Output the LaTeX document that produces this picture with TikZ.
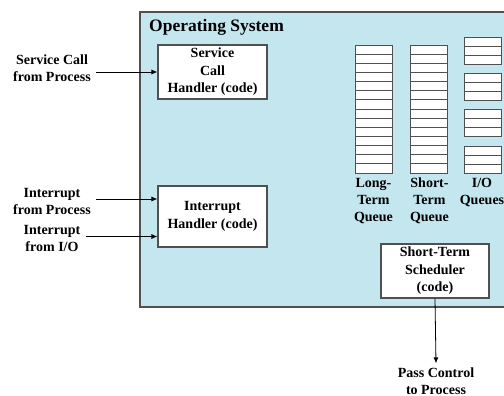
\documentclass[tikz,border=0pt]{standalone}
\usepackage{fontspec}
\setmainfont{Liberation Serif}
\usetikzlibrary{arrows.meta}
\definecolor{osblue}{HTML}{C4E6EF}
\definecolor{edgegray}{HTML}{505050}
\tikzset{
  osbox/.style={draw=edgegray, fill=osblue, line width=1.2pt},
  codebox/.style={draw=edgegray, fill=white, line width=1.1pt, align=center, inner sep=0pt,
    font=\bfseries\fontsize{14}{17.5}\selectfont},
  qcell/.style={draw=edgegray, fill=white, line width=0.9pt},
  txt/.style={align=center, inner xsep=5pt, inner ysep=0pt, font=\bfseries\fontsize{14}{17}\selectfont},
  flow/.style={draw=black, line width=0.8pt, -{Latex[length=6pt,width=5pt]}}
}
\begin{document}
\begin{tikzpicture}[x=1pt, y=-1pt]
            \clip (0,0) rectangle (504,396);
            \fill[white] (0,0) rectangle (504,396);
            \draw[osbox] (140,12) rectangle (530,307);
            \node[anchor=west, inner sep=0pt, font=\bfseries\fontsize{17.5}{20}\selectfont] (ostitle) at (149,27) {Operating System};
            % handlers
            \node[codebox, minimum width=109pt, minimum height=54pt] (svchandler) at (212.5,72) {Service\\Call\\Handler (code)};
            \node[codebox, minimum width=109pt, minimum height=61pt] (inthandler) at (212.5,216.5) {Interrupt\\Handler (code)};
            \node[codebox, minimum width=108pt, minimum height=54pt] (scheduler) at (435,271) {Short-Term\\Scheduler\\(code)};
            % queues
            \foreach \i in {0,...,13} {
                \draw[qcell] (355,45+9.143*\i) rectangle ++(37,9.143);
                \draw[qcell] (410,45+9.143*\i) rectangle ++(37,9.143);
            }
            \foreach \t in {37,73,109.5,146} {
                \foreach \i in {0,1,2} {
                    \draw[qcell] (464,\t+9*\i) rectangle ++(37,9);
                }
            }
            \node[txt] (ltq) at (373.5,201) {Long-\\Term\\Queue};
            \node[txt] (stq) at (429.5,201) {Short-\\Term\\Queue};
            \node[txt] (ioq) at (482,192.5) {I/O\\Queues};
            % inputs and output
            \node[txt] (svccall) at (52,68.5) {Service Call\\from Process};
            \node[txt] (intproc) at (52,201) {Interrupt\\from Process};
            \node[txt] (intio) at (52,238.5) {Interrupt\\from I/O};
            \node[txt] (passctl) at (436,381) {Pass Control\\to Process};
            \draw[flow] (svccall.east |- svchandler.west) -- (svchandler.west);
            \draw[flow] ([yshift=2pt]intproc.east) -- ([yshift=2pt]intproc.east -| inthandler.west);
            \draw[flow] ([yshift=2pt]intio.east) -- ([yshift=2pt]intio.east -| inthandler.west);
            \draw[flow] (scheduler.south) -- ([yshift=4pt]passctl.north);
        \end{tikzpicture}
\end{document}
